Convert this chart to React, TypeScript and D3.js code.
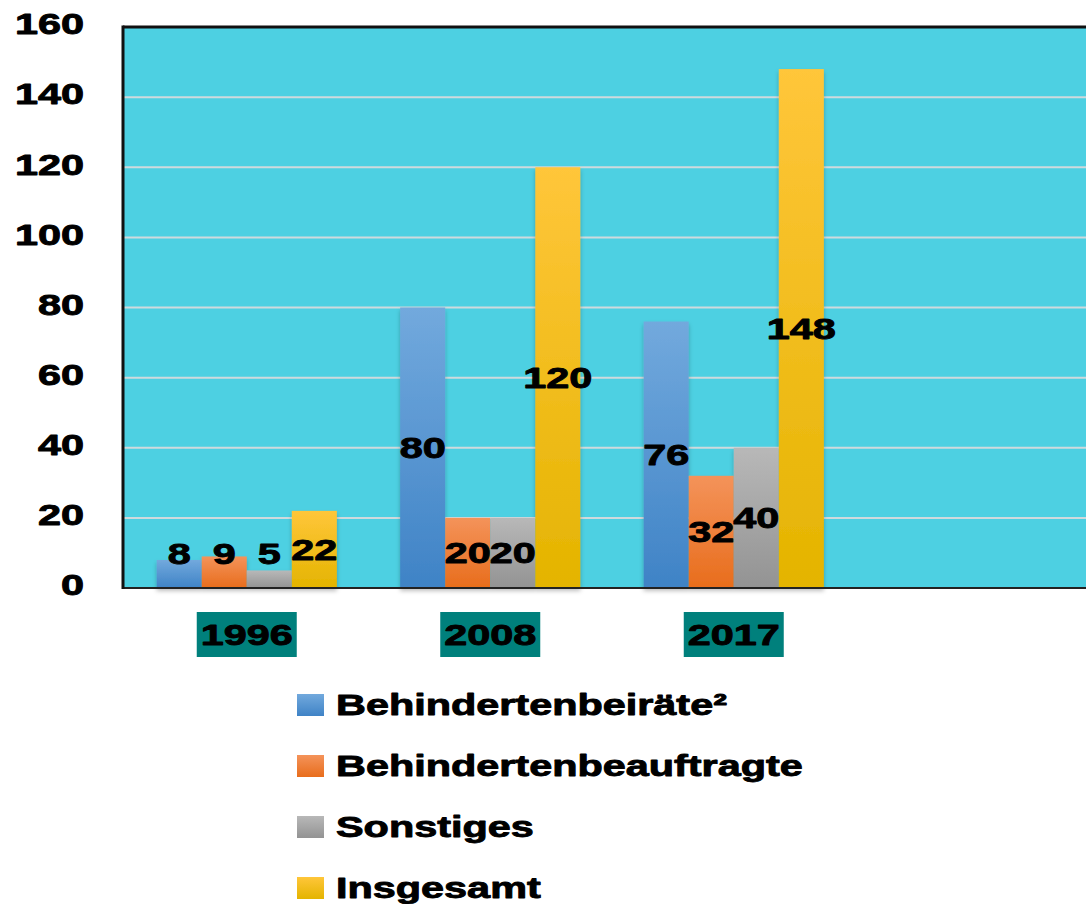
import React from 'react';
import * as d3 from 'd3';

// data
const years = ['1996', '2008', '2017'];
const seriesNames = ['Behindertenbeiräte²', 'Behindertenbeauftragte', 'Sonstiges', 'Insgesamt'];
const beiraete = [8, 80, 76];
const beauftragte = [9, 20, 32];
const sonstiges = [5, 20, 40];
const insgesamt = [22, 120, 148];
const yTicks = [0, 20, 40, 60, 80, 100, 120, 140, 160];

const seriesValues = [beiraete, beauftragte, sonstiges, insgesamt];
const gradients = [
  ['#72a9dd', '#3f83c6'],
  ['#f4935a', '#e86d1c'],
  ['#b8b8b8', '#939393'],
  ['#ffc63a', '#e4b400'],
];

const W = 1086, H = 904;
const plotLeft = 124, plotTop = 27, plotBottom = 588;
const SX = 1.38; // the picture is stretched sideways
const FONT = '"Liberation Sans", Arial, sans-serif';

const StretchText = ({ x, y, anchor = 'middle', children, baseline = 'central' }: any) => (
  <g transform={`translate(${x},${y}) scale(${SX},1)`}>
    <text textAnchor={anchor} dominantBaseline={baseline} fontFamily={FONT}
      fontWeight="bold" fontSize={30} fill="#000" stroke="#000" strokeWidth={0.9}
      strokeLinejoin="round">{children}</text>
  </g>
);

const App = () => {
  const y = d3.scaleLinear().domain([0, 160]).range([plotBottom, plotTop]);
  const step = 243.5;
  const x = d3.scaleBand().domain(years)
    .range([plotLeft + 1, plotLeft + 1 + 3 * step])
    .paddingInner(0.26).paddingOuter(0.13);
  const xs = d3.scaleBand().domain(seriesNames).range([0, x.bandwidth()]);

  return (
    <svg width={W} height={H} style={{ position: 'absolute', left: 0, top: 0, background: '#fff' }}>
      <defs>
        {gradients.map(([a, b], i) => (
          <linearGradient key={i} id={`g${i}`} x1="0" y1="0" x2="0" y2="1">
            <stop offset="0%" stopColor={a} />
            <stop offset="100%" stopColor={b} />
          </linearGradient>
        ))}
        <filter id="shadow" x="-20%" y="-5%" width="140%" height="115%">
          <feDropShadow dx="0" dy="3" stdDeviation="2" floodColor="#000" floodOpacity="0.25" />
        </filter>
      </defs>

      <rect x={plotLeft} y={plotTop} width={W - plotLeft} height={plotBottom - plotTop} fill="#4dd0e2" />
      {yTicks.slice(1, -1).map(t => (
        <line key={t} x1={plotLeft} x2={W} y1={y(t)} y2={y(t)} stroke="#cfdadd" strokeWidth={2} />
      ))}

      {years.map((yr, j) => (
        <g key={yr} transform={`translate(${x(yr)},0)`} filter="url(#shadow)">
          {seriesNames.map((s, i) => (
            <rect key={s} x={xs(s)} y={y(seriesValues[i][j])} width={xs.bandwidth()}
              height={y(0) - y(seriesValues[i][j])} fill={`url(#g${i})`} />
          ))}
        </g>
      ))}

      <line x1={plotLeft} x2={W} y1={plotBottom} y2={plotBottom} stroke="#222" strokeWidth={2} />
      <line x1={plotLeft - 1} x2={W} y1={plotTop} y2={plotTop} stroke="#111" strokeWidth={3} />
      <line x1={plotLeft - 1} x2={plotLeft - 1} y1={plotTop - 1.5} y2={plotBottom + 1} stroke="#111" strokeWidth={3} />

      {years.map((yr, j) => seriesNames.map((s, i) => {
        const v = seriesValues[i][j];
        const cx = (x(yr) as number) + (xs(s) as number) + xs.bandwidth() / 2;
        const ly = Math.min(y(v / 2), y(0) - 34);
        return <StretchText key={yr + s} x={cx} y={ly}>{v}</StretchText>;
      }))}

      {yTicks.map(t => (
        <StretchText key={t} x={84} y={y(t) - 3} anchor="end">{t}</StretchText>
      ))}

      {years.map(yr => {
        const cx = (x(yr) as number) + x.bandwidth() / 2;
        return (
          <g key={yr}>
            <rect x={cx - 50} y={612} width={100} height={45} fill="#00807c" />
            <StretchText x={cx} y={635}>{yr}</StretchText>
          </g>
        );
      })}

      {seriesNames.map((s, i) => {
        const ry = 705 + i * 61;
        return (
          <g key={s}>
            <rect x={297} y={ry - 11} width={27} height={22} fill={`url(#g${i})`} />
            <StretchText x={336} y={ry} anchor="start">{s}</StretchText>
          </g>
        );
      })}
    </svg>
  );
};

export default App;
